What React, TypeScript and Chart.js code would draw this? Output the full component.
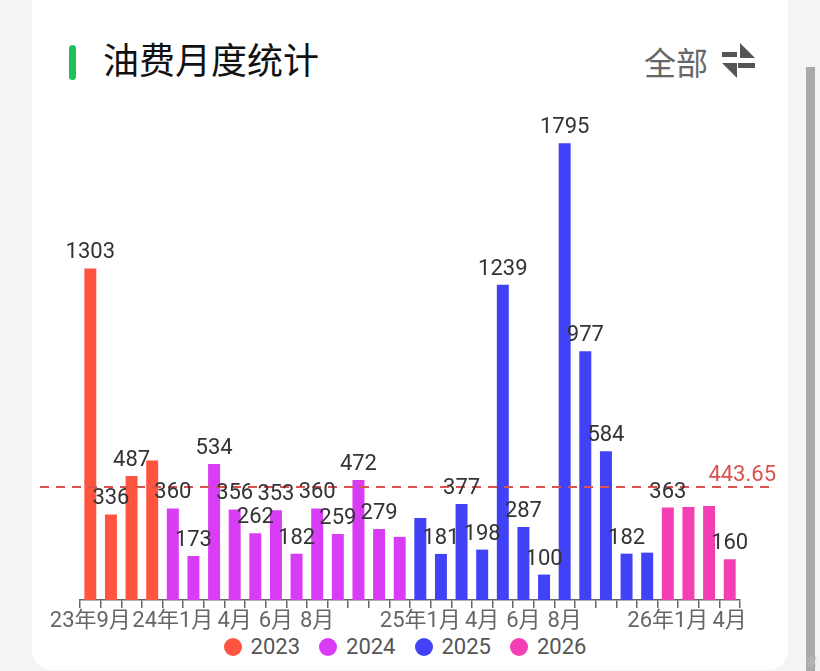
import React, { useEffect, useRef } from "react";
import { Chart, registerables } from "chart.js";

Chart.register(...registerables);

const FONT = "Roboto, 'Noto Sans CJK SC', sans-serif";

const categories = [
  "23年9月", "23年10月", "23年11月", "23年12月",
  "24年1月", "24年2月", "24年3月", "24年4月", "24年5月", "24年6月",
  "24年7月", "24年8月", "24年9月", "24年10月", "24年11月", "24年12月",
  "25年1月", "25年2月", "25年3月", "25年4月", "25年5月", "25年6月",
  "25年7月", "25年8月", "25年9月", "25年10月", "25年11月", "25年12月",
  "26年1月", "26年2月", "26年3月", "26年4月",
];

const tickLabels = [
  "23年9月", "", "", "",
  "24年1月", "", "", "4月", "", "6月", "", "8月", "", "", "", "",
  "25年1月", "", "", "4月", "", "6月", "", "8月", "", "", "", "",
  "26年1月", "", "", "4月",
];

const years = ["2023", "2024", "2025", "2026"];
const values2023 = [1303, 336, 487, 548];
const values2024 = [360, 173, 534, 356, 262, 353, 182, 360, 259, 472, 279, 248];
const values2025 = [322, 181, 377, 198, 1239, 287, 100, 1795, 977, 584, 182, 186];
const values2026 = [363, 365, 369, 160];
const yearColors = ["#ff5540", "#d93cf5", "#4141f7", "#f43fb4"];

const averageValue = 443.65;
const hiddenLabelIndexes = [3, 15, 16, 27, 29, 30];

const averageLinePlugin = {
  id: "averageLine",
  afterDatasetsDraw(chart: any) {
    const { ctx } = chart;
    const y = chart.scales.y.getPixelForValue(averageValue);
    ctx.save();
    ctx.strokeStyle = "#d9534f";
    ctx.lineWidth = 2;
    ctx.setLineDash([9, 7]);
    ctx.beginPath();
    ctx.moveTo(40, y);
    ctx.lineTo(774, y);
    ctx.stroke();
    ctx.setLineDash([]);
    ctx.fillStyle = "#d9534f";
    ctx.font = `22px ${FONT}`;
    ctx.textAlign = "right";
    ctx.textBaseline = "alphabetic";
    ctx.fillText(averageValue.toFixed(2), 776, y - 6);
    ctx.restore();
  },
};

const valueLabelPlugin = {
  id: "valueLabels",
  afterDatasetsDraw(chart: any) {
    const { ctx } = chart;
    ctx.save();
    ctx.font = `22px ${FONT}`;
    ctx.fillStyle = "#333";
    ctx.textAlign = "center";
    ctx.textBaseline = "alphabetic";
    chart.data.datasets.forEach((ds: any, di: number) => {
      const meta = chart.getDatasetMeta(di);
      meta.data.forEach((el: any, i: number) => {
        const v = ds.data[i];
        if (v == null || hiddenLabelIndexes.includes(i)) return;
        ctx.fillText(String(v), el.x, el.y - 10);
      });
    });
    ctx.restore();
  },
};

export default function App() {
  const canvasRef = useRef<HTMLCanvasElement | null>(null);

  useEffect(() => {
    if (!canvasRef.current) return;
    const seriesValues = [values2023, values2024, values2025, values2026];
    let offset = 0;
    const datasets = seriesValues.map((vals, k) => {
      const data: (number | null)[] = categories.map(() => null);
      vals.forEach((v, j) => {
        data[offset + j] = v;
      });
      offset += vals.length;
      return {
        label: years[k],
        data,
        backgroundColor: yearColors[k],
        borderWidth: 0,
      };
    });

    const chart = new Chart(canvasRef.current, {
      type: "bar",
      data: { labels: categories, datasets },
      options: {
        responsive: false,
        animation: false,
        layout: { padding: { left: 80, right: 80, top: 91, bottom: 31 } },
        datasets: {
          bar: { grouped: false, categoryPercentage: 1, barPercentage: 0.58 },
        },
        scales: {
          x: {
            grid: {
              display: true,
              drawOnChartArea: false,
              drawTicks: true,
              tickLength: 8,
              color: "#666",
              lineWidth: 1.5,
              offset: true,
            },
            border: { display: true, color: "#666", width: 1.5 },
            ticks: {
              autoSkip: false,
              maxRotation: 0,
              minRotation: 0,
              padding: 0,
              color: "#666",
              font: { size: 22, family: FONT },
              callback: (_v: any, i: number) => tickLabels[i],
            },
            afterFit: (s: any) => {
              s.height = 40;
            },
          },
          y: { display: false, min: 0, max: 2000 },
        },
        plugins: {
          legend: { display: false },
          tooltip: { enabled: false },
          title: { display: false },
        },
      } as any,
      plugins: [averageLinePlugin, valueLabelPlugin],
    });
    return () => chart.destroy();
  }, []);

  return (
    <div
      style={{
        position: "fixed",
        left: 0,
        top: 0,
        width: 820,
        height: 671,
        background: "#f4f4f4",
        overflow: "hidden",
        fontFamily: FONT,
      }}
    >
      <div
        style={{
          position: "absolute",
          left: 32,
          top: -30,
          width: 756,
          height: 700,
          background: "#fff",
          borderRadius: 20,
        }}
      />
      <div
        style={{
          position: "absolute",
          left: 806,
          top: 67,
          width: 9,
          height: 620,
          background: "#a9a9a9",
        }}
      />
      <div
        style={{
          position: "absolute",
          left: 69,
          top: 45,
          width: 7,
          height: 35,
          background: "#1fc15e",
          borderRadius: 4,
        }}
      />
      <div
        style={{
          position: "absolute",
          left: 103,
          top: 44,
          fontSize: 36,
          lineHeight: "36px",
          color: "#111",
          whiteSpace: "nowrap",
        }}
      >
        油费月度统计
      </div>
      <div
        style={{
          position: "absolute",
          left: 644,
          top: 48,
          fontSize: 32,
          lineHeight: "32px",
          color: "#666",
          whiteSpace: "nowrap",
        }}
      >
        全部
      </div>
      <svg
        width={820}
        height={100}
        style={{ position: "absolute", left: 0, top: 0 }}
      >
        <rect x={722} y={52} width={15} height={5} fill="#555" />
        <polygon points="740,43 755,58 740,58" fill="#555" />
        <rect x={738} y={63} width={17} height={5} fill="#555" />
        <polygon points="722,63 737,63 737,78" fill="#555" />
      </svg>
      <div
        style={{
          position: "absolute",
          left: 0,
          width: 810,
          top: 634,
          height: 26,
          display: "flex",
          justifyContent: "center",
          alignItems: "center",
          gap: 19,
        }}
      >
        {years.map((yr, k) => (
          <div
            key={yr}
            style={{ display: "flex", alignItems: "center", whiteSpace: "nowrap" }}
          >
            <span
              style={{
                display: "inline-block",
                width: 18,
                height: 18,
                borderRadius: 9,
                background: yearColors[k],
                marginRight: 9,
              }}
            />
            <span style={{ fontSize: 22, lineHeight: "26px", color: "#555" }}>{yr}</span>
          </div>
        ))}
      </div>
      <div
        style={{
          position: "absolute",
          left: 806,
          top: 653,
          fontSize: 11,
          color: "#bbb",
        }}
      >
        家
      </div>
      <canvas
        ref={canvasRef}
        width={820}
        height={671}
        style={{ position: "absolute", left: 0, top: 0, width: 820, height: 671 }}
      />
    </div>
  );
}
